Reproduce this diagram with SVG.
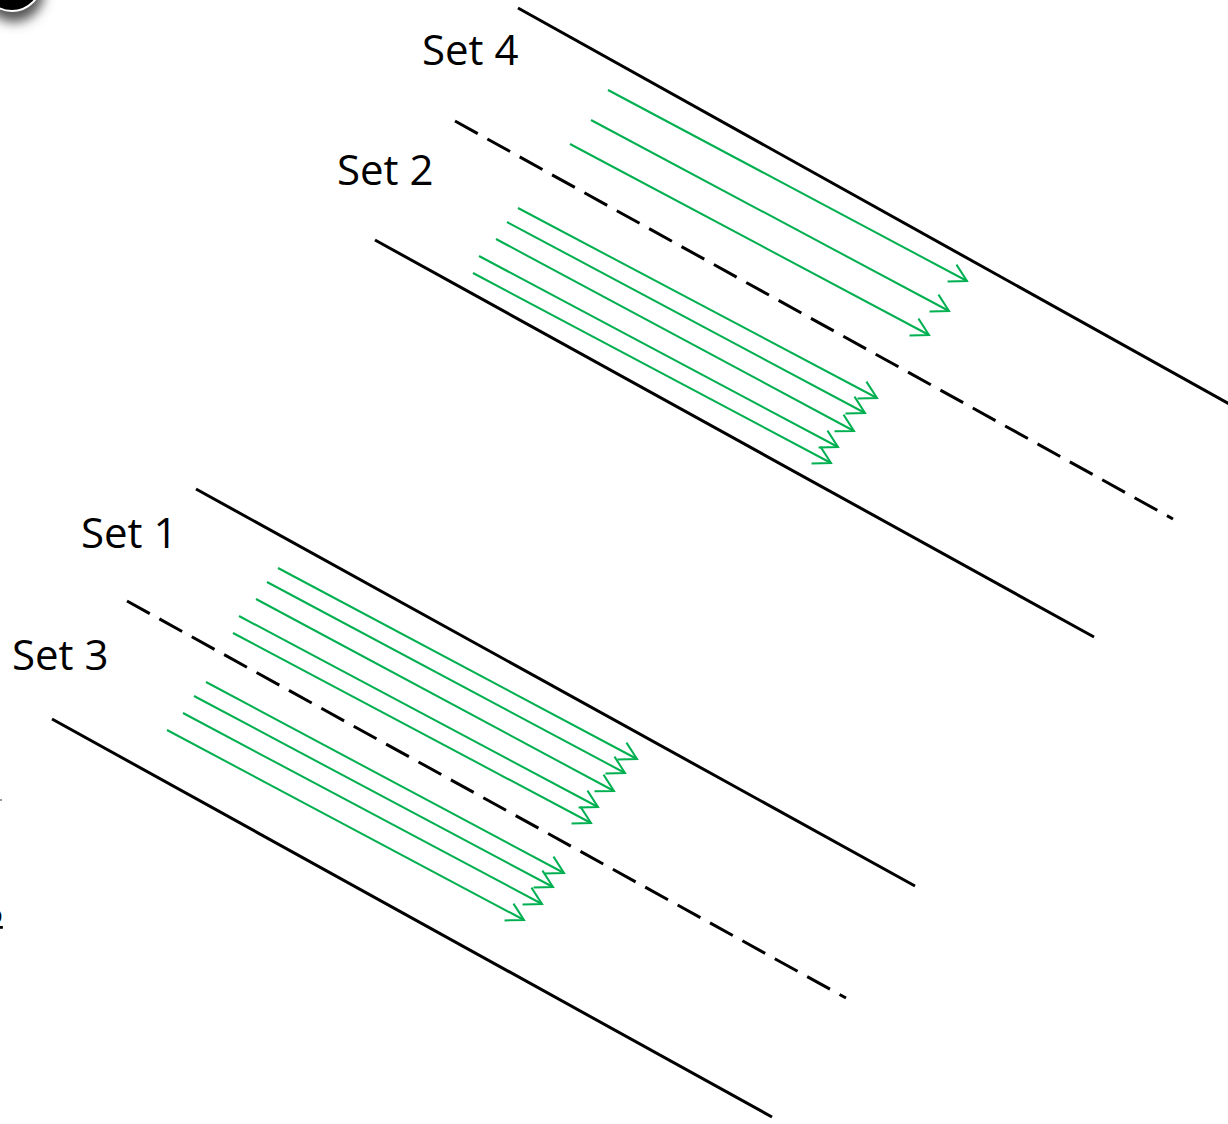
<svg xmlns="http://www.w3.org/2000/svg" width="1228" height="1124" viewBox="0 0 1228 1124">
  <style>
    .rail { stroke: #000; stroke-width: 3; fill: none; }
    .dash { stroke-dasharray: 26 11; }
    .ray { stroke: #00b050; stroke-width: 2; fill: none; marker-end: url(#head); }
    .label { font-family: "Open Sans", "Liberation Sans", sans-serif; font-size: 42px; fill: #000; }
  </style>
  <defs>
    <marker id="head" markerUnits="userSpaceOnUse" viewBox="-20 -12 24 24" refX="0" refY="0" markerWidth="24" markerHeight="24" orient="auto">
      <path d="M -17 -9.5 L 0 0 L -17 9.5" fill="none" stroke="#00b050" stroke-width="2"/>
    </marker>
    <filter id="soft" x="-50%" y="-50%" width="200%" height="200%">
      <feGaussianBlur stdDeviation="6"/>
    </filter>
  </defs>

  <rect width="1228" height="1124" fill="#fff"/>

  <!-- corner badge -->
  <g id="badge">
    <circle cx="14" cy="-16" r="30" fill="#555" filter="url(#soft)" transform="translate(0,8)"/>
    <circle cx="12" cy="-18" r="29" fill="#000" stroke="#fff" stroke-width="2"/>
  </g>

  <!-- edge fragments -->
  <g id="edge-fragments">
    <rect x="0" y="799" width="2" height="2" fill="#999"/>
    <text x="-14" y="924" style="font-family: 'Open Sans', 'Liberation Sans', sans-serif; font-size: 28px; text-decoration: underline;">o</text>
  </g>

  <!-- boundary lines -->
  <g id="connectors">
    <line class="rail" x1="518" y1="8" x2="1240" y2="410"/>
    <line class="rail dash" x1="455" y1="121" x2="1173" y2="519"/>
    <line class="rail" x1="375" y1="240" x2="1094" y2="637"/>
    <line class="rail" x1="196" y1="489" x2="915" y2="886"/>
    <line class="rail dash" x1="127" y1="601" x2="846" y2="998"/>
    <line class="rail" x1="52" y1="719" x2="772" y2="1117"/>
  </g>

  <!-- ray sets -->
  <g id="set4">
    <line class="ray" x1="608" y1="90" x2="967" y2="281"/>
    <line class="ray" x1="591" y1="120" x2="949" y2="311"/>
    <line class="ray" x1="570" y1="144" x2="929" y2="335"/>
    <text class="label" x="422" y="65">Set 4</text>
  </g>
  <g id="set2">
    <line class="ray" x1="518" y1="208" x2="877" y2="398"/>
    <line class="ray" x1="507" y1="222" x2="865" y2="413"/>
    <line class="ray" x1="496" y1="239" x2="854" y2="431"/>
    <line class="ray" x1="479" y1="256" x2="838" y2="447"/>
    <line class="ray" x1="473" y1="273" x2="831" y2="463"/>
    <text class="label" x="337" y="185">Set 2</text>
  </g>
  <g id="set1">
    <line class="ray" x1="278" y1="568" x2="637" y2="759"/>
    <line class="ray" x1="267" y1="582" x2="625" y2="773"/>
    <line class="ray" x1="256" y1="599" x2="614" y2="791"/>
    <line class="ray" x1="239" y1="616" x2="598" y2="807"/>
    <line class="ray" x1="233" y1="633" x2="591" y2="823"/>
    <text class="label" x="81" y="548">Set 1</text>
  </g>
  <g id="set3">
    <line class="ray" x1="206" y1="682" x2="564" y2="873"/>
    <line class="ray" x1="194" y1="696" x2="553" y2="887"/>
    <line class="ray" x1="183" y1="713" x2="542" y2="904"/>
    <line class="ray" x1="167" y1="730" x2="524" y2="920"/>
    <text class="label" x="12" y="670">Set 3</text>
  </g>
</svg>
